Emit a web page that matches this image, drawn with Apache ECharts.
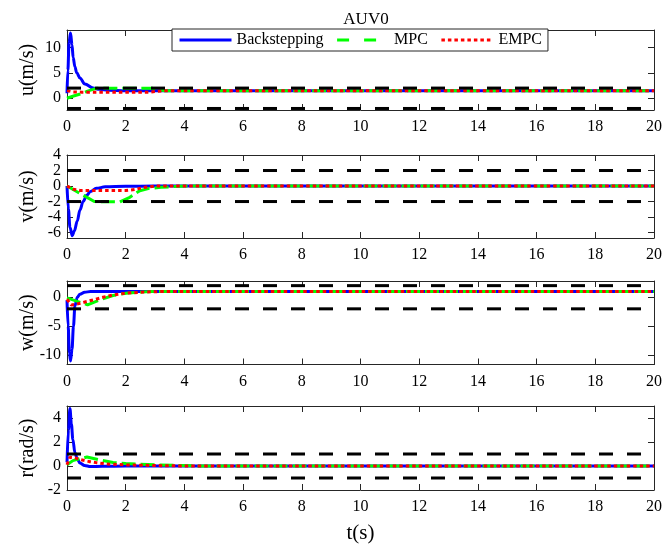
<!DOCTYPE html>
<html>
<head>
<meta charset="utf-8">
<script src="https://cdn.jsdelivr.net/npm/echarts@6/dist/echarts.min.js"></script>
<style>html,body{margin:0;padding:0;background:#fff}#c{width:665px;height:545px}</style>
</head>
<body>
<div id="c"></div>
<script>
// ---------- data ----------
const seriesNames = ['Backstepping', 'MPC', 'EMPC'];
const xTicks = [0, 2, 4, 6, 8, 10, 12, 14, 16, 18, 20];

// u(m/s)
const tU_bs  = [0, 0.03, 0.07, 0.12, 0.17, 0.21, 0.27, 0.33, 0.44, 0.61, 0.89, 1.1, 1.4, 2, 20];
const u_bs   = [1.0, 5.5, 11.0, 12.8, 10.5, 8.0, 6.2, 5.0, 4.0, 2.8, 2.0, 1.75, 1.6, 1.5, 1.5];
const tU_mpc = [0, 0.2, 0.45, 0.75, 1.0, 2.9, 3.3, 20];
const u_mpc  = [0.0, 0.4, 0.85, 1.5, 1.95, 1.95, 1.5, 1.5];
const tU_empc = [0, 0.2, 0.5, 2.8, 3.3, 20];
const u_empc  = [1.5, 1.25, 1.2, 1.2, 1.5, 1.5];
const uBounds = [-2, 2];
const uTicks = [0, 5, 10];

// v(m/s)
const tV_bs  = [0, 0.05, 0.1, 0.18, 0.25, 0.35, 0.44, 0.55, 0.67, 0.8, 1.0, 1.3, 2.0, 3.0, 20];
const v_bs   = [0, -3.0, -5.3, -6.4, -5.8, -4.5, -3.1, -2.0, -1.2, -0.7, -0.3, -0.1, -0.04, 0, 0];
const tV_mpc = [0, 0.93, 1.8, 2.14, 2.48, 2.8, 3.2, 3.6, 4.1, 20];
const v_mpc  = [0, -2.0, -2.05, -1.45, -0.6, -0.3, -0.17, -0.08, 0, 0];
const tV_empc = [0, 0.2, 0.45, 2.0, 2.3, 2.6, 3.0, 20];
const v_empc  = [0, -0.4, -0.58, -0.58, -0.45, -0.2, 0, 0];
const vBounds = [-2, 2];
const vTicks = [-6, -4, -2, 0, 2, 4];

// w(m/s)
const tW_bs  = [0, 0.04, 0.08, 0.12, 0.17, 0.22, 0.27, 0.35, 0.44, 0.6, 0.8, 20];
const w_bs   = [-0.5, -5.0, -9.5, -11.0, -9.0, -5.0, -1.5, 0.0, 0.5, 0.85, 1.0, 1.0];
const tW_mpc = [0, 0.2, 0.7, 1.12, 1.57, 2.02, 2.48, 2.9, 20];
const w_mpc  = [-0.1, -0.45, -1.3, -0.46, 0.3, 0.7, 0.88, 1.0, 1.0];
const tW_empc = [0, 0.15, 0.45, 0.67, 0.9, 1.23, 1.57, 2.02, 2.48, 2.9, 3.5, 20];
const w_empc  = [-0.35, -1.35, -1.05, -0.74, -0.46, 0.0, 0.4, 0.7, 0.86, 0.95, 1.0, 1.0];
const wBounds = [-2, 2];
const wTicks = [-10, -5, 0];

// r(rad/s)
const tR_bs  = [0, 0.05, 0.1, 0.15, 0.2, 0.27, 0.35, 0.44, 0.6, 0.8, 1.2, 2.0, 20];
const r_bs   = [0.3, 3.0, 4.8, 3.5, 2.2, 1.1, 0.6, 0.25, 0.05, -0.05, -0.03, 0, 0];
const tR_mpc = [0, 0.2, 0.68, 1.12, 1.57, 2.0, 2.48, 3.1, 3.8, 4.5, 20];
const r_mpc  = [0.1, 0.45, 0.75, 0.5, 0.3, 0.2, 0.15, 0.09, 0.05, 0.0, 0.0];
const tR_empc = [0, 0.1, 0.27, 0.44, 0.78, 1.0, 1.35, 2.0, 2.6, 3.2, 4.0, 20];
const r_empc  = [0.1, 0.72, 0.68, 0.55, 0.36, 0.28, 0.17, 0.09, 0.06, 0.03, 0.0, 0.0];
const rBounds = [-1, 1];
const rTicks = [-2, 0, 2, 4];

// ---------- layout / style ----------
const FONT = 'Liberation Serif';
const AX = '#262626';
const panels = [
  {name: 'u(m/s)',   min: -2.3, max: 13.4, ticks: uTicks, bounds: uBounds, top: 30,  height: 80,
   d: [[tU_bs, u_bs], [tU_mpc, u_mpc], [tU_empc, u_empc]]},
  {name: 'v(m/s)',   min: -6.7, max: 4,    ticks: vTicks, bounds: vBounds, top: 155, height: 83,
   d: [[tV_bs, v_bs], [tV_mpc, v_mpc], [tV_empc, v_empc]]},
  {name: 'w(m/s)',   min: -11.6, max: 2.8, ticks: wTicks, bounds: wBounds, top: 281, height: 83.5,
   d: [[tW_bs, w_bs], [tW_mpc, w_mpc], [tW_empc, w_empc]]},
  {name: 'r(rad/s)', min: -2,   max: 5,    ticks: rTicks, bounds: rBounds, top: 406, height: 84,
   d: [[tR_bs, r_bs], [tR_mpc, r_mpc], [tR_empc, r_empc]]}
];
const colors = ['#0000ff', '#00ff00', '#ff0000'];
const lineTypes = ['solid', [14, 5], [3.5, 3]];
const legendTypes = ['solid', [12, 15], [3.5, 3]];
const zip = (t, v) => t.map((x, i) => [x, v[i]]);

const grid = [], xAxis = [], yAxis = [], series = [];
const labelCommon = {fontFamily: FONT, fontSize: 16, color: '#000'};
panels.forEach((p, k) => {
  grid.push({left: 67, right: 9, top: p.top, height: p.height, containLabel: false});
  const last = k === panels.length - 1;
  const evenTicks = p.ticks.filter((_, i) => i % 2 === 0);
  const oddTicks = p.ticks.filter((_, i) => i % 2 === 1);
  xAxis.push({
    type: 'value', gridIndex: k, min: 0, max: 20, interval: 2, position: 'bottom',
    axisLine: {show: true, onZero: false, lineStyle: {color: AX, width: 1}},
    axisTick: {show: true, inside: true, length: 6, lineStyle: {color: AX}},
    axisLabel: Object.assign({show: true, margin: 9}, labelCommon),
    splitLine: {show: false},
    name: last ? 't(s)' : '', nameLocation: 'middle', nameGap: 33, nameMoveOverlap: false,
    nameTextStyle: {fontFamily: FONT, fontSize: 21, color: '#000'}
  });
  xAxis.push({
    type: 'value', gridIndex: k, min: 0, max: 20, interval: 2, position: 'top',
    axisLine: {show: true, onZero: false, lineStyle: {color: AX, width: 1}},
    axisTick: {show: true, inside: true, length: 6, lineStyle: {color: AX}},
    axisLabel: {show: false}, splitLine: {show: false}
  });
  // main left axis: line, all ticks, labels of every other tick, name
  yAxis.push({
    type: 'value', gridIndex: k, min: p.min, max: p.max, position: 'left',
    axisLine: {show: true, onZero: false, lineStyle: {color: AX, width: 1}},
    axisTick: {show: true, inside: true, length: 6, lineStyle: {color: AX}, customValues: p.ticks},
    axisLabel: Object.assign({show: true, margin: 6, customValues: evenTicks,
      hideOverlap: false, showMinLabel: true, showMaxLabel: true}, labelCommon),
    splitLine: {show: false},
    name: p.name, nameLocation: 'middle', nameRotate: 90, nameGap: 29, nameMoveOverlap: false,
    nameTextStyle: {fontFamily: FONT, fontSize: 20, color: '#000'}
  });
  // right axis (box side)
  yAxis.push({
    type: 'value', gridIndex: k, min: p.min, max: p.max, position: 'right',
    axisLine: {show: true, onZero: false, lineStyle: {color: AX, width: 1}},
    axisTick: {show: true, inside: true, length: 6, lineStyle: {color: AX}, customValues: p.ticks},
    axisLabel: {show: false}, splitLine: {show: false}
  });
  // helper left axis: labels for the remaining ticks
  yAxis.push({
    type: 'value', gridIndex: k, min: p.min, max: p.max, position: 'left',
    axisLine: {show: false}, axisTick: {show: false}, splitLine: {show: false},
    axisLabel: Object.assign({show: oddTicks.length > 0, margin: 6,
      customValues: oddTicks.length ? oddTicks : evenTicks,
      hideOverlap: false, showMinLabel: true, showMaxLabel: true}, labelCommon)
  });
  [0, 1, 2].forEach(s => {
    const pair = p.d[s];
    series.push({
      name: seriesNames[s], type: 'line', xAxisIndex: 2 * k, yAxisIndex: 3 * k,
      data: zip(pair[0], pair[1]), showSymbol: false, symbol: 'none',
      smooth: s === 0 ? 0.35 : false, smoothMonotone: 'x',
      lineStyle: {color: colors[s], width: 3, type: lineTypes[s]},
      itemStyle: {color: colors[s]}, clip: true, animation: false
    });
  });
  p.bounds.forEach(b => {
    series.push({
      type: 'line', xAxisIndex: 2 * k, yAxisIndex: 3 * k,
      data: [[xTicks[0], b], [xTicks[xTicks.length - 1], b]], showSymbol: false, symbol: 'none',
      lineStyle: {color: '#000', width: 3, type: [14, 14]}, silent: true, animation: false
    });
  });
});

const chart = echarts.init(document.getElementById('c'), null, {renderer: 'canvas'});
chart.setOption({
  backgroundColor: '#fff',
  animation: false,
  title: {text: 'AUV0', left: 361, top: 6, textAlign: 'center',
    textStyle: {fontFamily: FONT, fontSize: 17, fontWeight: 'normal', color: '#000'}},
  legend: {
    data: seriesNames.map((n, i) => ({name: n, lineStyle: {type: legendTypes[i], width: 3, color: colors[i]}})),
    left: 172, top: 29, orient: 'horizontal',
    padding: [3, 6, 3, 6], itemGap: 12, itemWidth: 52, itemHeight: 12,
    backgroundColor: '#fff', borderColor: AX, borderWidth: 1, borderRadius: 0,
    itemStyle: {opacity: 0, color: 'rgba(0,0,0,0)', borderWidth: 0},
    lineStyle: {width: 3},
    textStyle: {fontFamily: FONT, fontSize: 16, color: '#000'}
  },
  grid, xAxis, yAxis, series
});
</script>
</body>
</html>
